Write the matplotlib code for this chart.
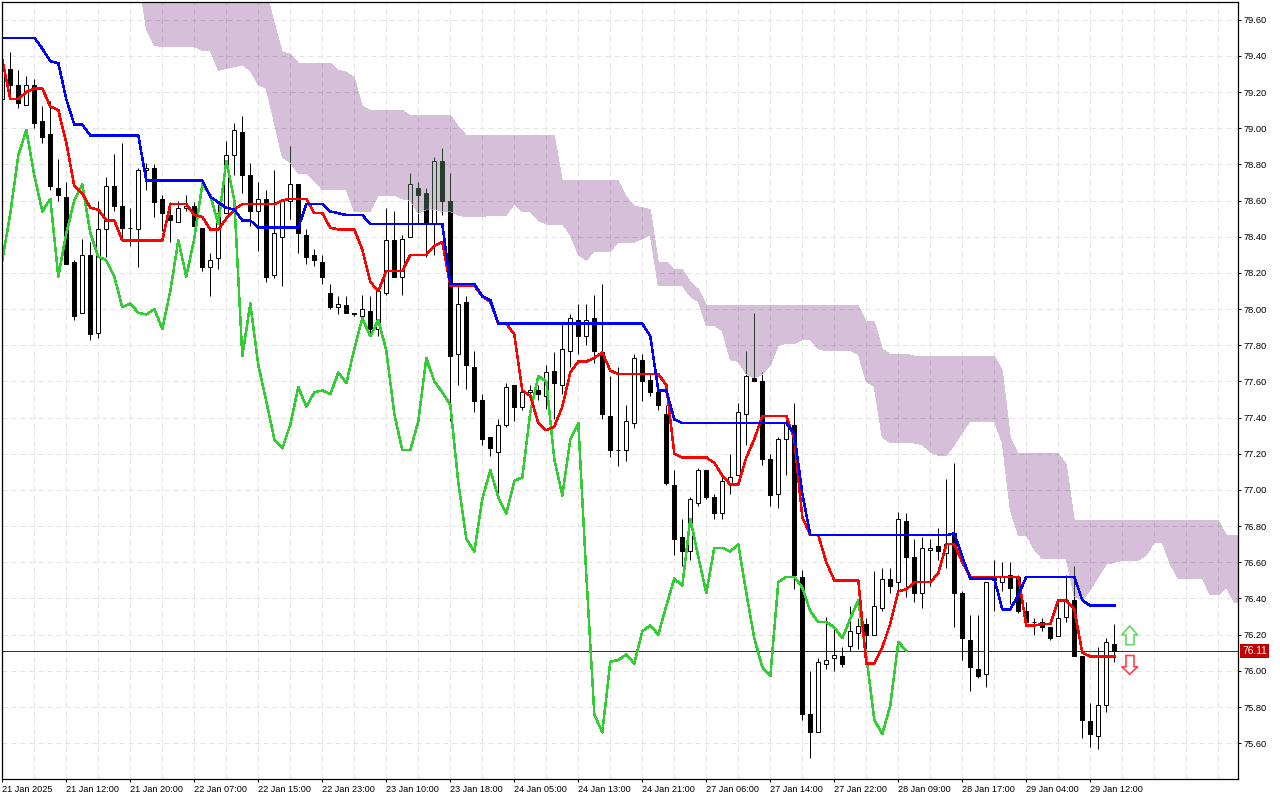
import numpy as np
import matplotlib
matplotlib.use("Agg")
import matplotlib.pyplot as plt
from matplotlib.patches import Polygon
from matplotlib.transforms import Affine2D

opens = [79.16,79.33,79.24,79.13,79.24,79.04,78.97,78.67,78.62,78.26,
77.98,78.30,77.87,78.44,78.68,78.57,78.45,78.44,78.77,78.78,
78.61,78.52,78.48,78.56,78.57,78.45,78.23,78.28,78.53,78.85,
78.98,78.74,78.54,78.61,78.19,78.40,78.60,78.69,78.41,78.30,
78.26,78.09,78.01,78.02,77.98,77.96,77.99,77.89,78.09,78.38,
78.18,78.40,78.67,78.64,78.47,78.82,78.60,77.75,78.04,77.68,
77.50,77.29,77.21,77.36,77.58,77.46,77.54,77.55,77.52,77.66,
77.58,77.77,77.94,77.85,77.95,77.76,77.41,77.22,77.22,77.37,
77.72,77.61,77.54,77.42,77.03,76.74,76.66,76.93,77.11,76.96,
76.87,77.04,77.08,77.42,77.62,77.60,77.17,76.98,77.28,77.36,
76.52,75.76,75.66,76.04,76.07,76.08,76.14,76.21,76.26,76.20,
76.35,76.51,76.49,76.83,76.63,76.43,76.67,76.69,76.65,76.76,
76.43,76.17,76.01,75.98,76.50,76.49,76.53,76.52,76.33,76.27,
76.27,76.24,76.19,76.30,76.39,76.08,75.72,75.64,75.81,76.15]

closes = [79.33,79.24,79.14,79.24,79.03,78.95,78.68,78.63,78.25,77.96,
78.30,77.86,78.44,78.68,78.57,78.45,78.45,78.77,78.78,78.59,
78.53,78.49,78.56,78.57,78.46,78.23,78.27,78.53,78.85,78.99,
78.74,78.54,78.61,78.18,78.42,78.60,78.69,78.42,78.29,78.27,
78.18,78.01,78.03,77.98,77.97,78.00,77.89,78.10,78.38,78.18,
78.39,78.69,78.63,78.47,78.82,78.60,77.74,78.03,77.69,77.49,
77.28,77.23,77.36,77.57,77.46,77.54,77.55,77.53,77.65,77.59,
77.78,77.95,77.85,77.94,77.77,77.42,77.22,77.22,77.38,77.73,
77.60,77.54,77.47,77.04,76.73,76.66,76.95,77.11,76.96,76.87,
77.05,77.07,77.43,77.63,77.60,77.17,76.97,77.28,77.37,76.53,
75.76,75.66,76.05,76.06,76.09,76.04,76.22,76.25,76.20,76.36,
76.51,76.47,76.84,76.63,76.43,76.68,76.68,76.66,76.70,76.43,
76.18,76.02,75.97,76.49,76.52,76.52,76.46,76.33,76.27,76.27,
76.24,76.18,76.29,76.39,76.08,75.73,75.65,75.81,76.16,76.11]

highs = [79.42,79.42,79.32,79.29,79.27,79.12,79.15,78.83,78.70,78.27,
78.39,78.37,78.60,78.73,78.86,78.92,78.56,78.78,78.81,78.80,
78.63,78.59,78.60,78.63,78.59,78.45,78.31,78.58,78.93,79.03,
79.07,78.81,78.70,78.66,78.77,78.61,78.90,78.69,78.44,78.33,
78.30,78.14,78.07,78.07,77.98,78.08,78.07,78.11,78.56,78.54,
78.41,78.75,78.70,78.67,78.84,78.89,78.75,78.13,78.07,77.77,
77.53,77.29,77.39,77.59,77.58,77.54,77.58,77.58,77.69,77.76,
77.92,77.97,78.03,78.03,78.08,78.14,77.63,77.68,77.47,77.75,
77.75,77.64,77.59,77.47,77.11,76.84,76.96,77.12,77.11,76.98,
77.08,77.20,77.48,77.77,77.98,77.65,77.20,77.29,77.40,77.48,
76.56,76.00,76.07,76.30,76.24,76.13,76.36,76.29,76.29,76.55,
76.57,76.57,76.88,76.87,76.73,76.74,76.73,76.79,77.06,77.15,
76.44,76.31,76.31,76.49,76.61,76.60,76.60,76.53,76.38,76.29,
76.29,76.24,76.39,76.53,76.58,76.08,75.82,76.13,76.18,76.26]

lows = [79.15,79.19,79.11,79.13,79.00,78.92,78.66,78.60,78.25,77.94,
77.98,77.83,77.84,78.29,78.54,78.40,78.35,78.23,78.66,78.51,
78.43,78.37,78.48,78.54,78.46,78.21,78.07,78.22,78.53,78.74,
78.64,78.46,78.32,78.15,78.17,78.13,78.50,78.31,78.25,78.24,
78.14,78.00,77.97,77.98,77.96,77.96,77.85,77.85,78.08,78.18,
78.08,78.40,78.47,78.29,78.30,78.52,77.38,77.58,77.56,77.43,
77.25,77.19,76.98,77.35,77.38,77.44,77.52,77.50,77.45,77.39,
77.53,77.68,77.75,77.80,77.70,77.39,77.18,77.13,77.16,77.34,
77.49,77.52,77.44,77.03,76.64,76.58,76.61,76.91,76.95,76.84,
76.84,76.98,77.08,77.25,77.60,77.14,76.91,76.90,77.08,76.45,
75.73,75.52,75.66,76.01,76.00,76.02,76.11,76.12,76.10,76.20,
76.33,76.43,76.44,76.41,76.38,76.35,76.47,76.61,76.57,76.24,
76.06,75.89,75.96,75.91,76.33,76.44,76.37,76.32,76.27,76.20,
76.22,76.17,76.19,76.27,76.08,75.63,75.58,75.57,75.77,76.05]

tenkan = [79.38,79.16,79.16,79.20,79.22,79.22,79.12,79.10,78.92,78.68,
78.64,78.56,78.55,78.49,78.49,78.38,78.38,78.38,78.38,78.38,
78.38,78.58,78.58,78.58,78.52,78.51,78.44,78.44,78.50,78.55,
78.58,78.58,78.58,78.58,78.58,78.60,78.61,78.61,78.61,78.53,
78.53,78.45,78.44,78.44,78.44,78.33,78.15,78.10,78.21,78.21,
78.21,78.30,78.30,78.30,78.35,78.37,78.13,78.13,78.13,78.13,
78.07,78.04,77.92,77.92,77.86,77.55,77.52,77.37,77.33,77.35,
77.46,77.65,77.71,77.71,77.73,77.76,77.66,77.64,77.64,77.64,
77.64,77.64,77.64,77.58,77.20,77.18,77.18,77.18,77.18,77.15,
77.08,77.03,77.03,77.18,77.28,77.41,77.41,77.41,77.41,77.28,
76.85,76.75,76.75,76.60,76.50,76.50,76.50,76.50,76.04,76.04,
76.13,76.26,76.44,76.45,76.49,76.49,76.49,76.54,76.70,76.70,
76.60,76.52,76.52,76.52,76.52,76.52,76.52,76.52,76.25,76.25,
76.26,76.26,76.39,76.39,76.34,76.10,76.08,76.08,76.08,76.08]

kijun = [79.50,79.50,79.50,79.50,79.50,79.44,79.37,79.36,79.16,79.02,
79.02,78.96,78.96,78.96,78.96,78.96,78.96,78.96,78.71,78.71,
78.71,78.71,78.71,78.71,78.71,78.71,78.62,78.59,78.56,78.55,
78.49,78.49,78.45,78.45,78.45,78.45,78.45,78.45,78.58,78.58,
78.58,78.54,78.53,78.52,78.52,78.52,78.47,78.47,78.47,78.47,
78.47,78.47,78.47,78.47,78.47,78.47,78.14,78.14,78.14,78.14,
78.07,78.05,77.92,77.92,77.92,77.92,77.92,77.92,77.92,77.92,
77.92,77.92,77.92,77.92,77.92,77.92,77.92,77.92,77.92,77.92,
77.92,77.85,77.55,77.55,77.39,77.37,77.37,77.37,77.37,77.37,
77.37,77.37,77.37,77.37,77.37,77.37,77.37,77.37,77.37,77.31,
76.98,76.75,76.75,76.75,76.75,76.75,76.75,76.75,76.75,76.75,
76.75,76.75,76.75,76.75,76.75,76.75,76.75,76.75,76.75,76.76,
76.63,76.51,76.51,76.51,76.51,76.34,76.34,76.42,76.52,76.52,
76.52,76.52,76.52,76.52,76.52,76.39,76.36,76.36,76.36,76.36]

chikou = [78.27,78.53,78.85,78.99,
78.74,78.54,78.61,78.18,78.42,78.60,78.69,78.42,78.29,78.27,
78.18,78.01,78.03,77.98,77.97,78.00,77.89,78.10,78.38,78.18,
78.39,78.69,78.63,78.47,78.82,78.60,77.74,78.03,77.69,77.49,
77.28,77.23,77.36,77.57,77.46,77.54,77.55,77.53,77.65,77.59,
77.78,77.95,77.85,77.94,77.77,77.42,77.22,77.22,77.38,77.73,
77.60,77.54,77.47,77.04,76.73,76.66,76.95,77.11,76.96,76.87,
77.05,77.07,77.43,77.63,77.60,77.17,76.97,77.28,77.37,76.53,
75.76,75.66,76.05,76.06,76.09,76.04,76.22,76.25,76.20,76.36,
76.51,76.47,76.84,76.63,76.43,76.68,76.68,76.66,76.70,76.43,
76.18,76.02,75.97,76.49,76.52,76.52,76.46,76.33,76.27,76.27,
76.24,76.18,76.29,76.39,76.08,75.73,75.65,75.81,76.16,76.11]

# cloud, first entry belongs to bar 17
cloud_first_bar = 17
cloud_upper = [79.9,79.9,79.9,79.9,79.9,79.9,79.9,79.9,79.9,79.9,
79.9,79.9,79.9,79.9,79.9,79.9,79.75,79.58,79.42,79.41,
79.36,79.36,79.36,79.36,79.36,79.32,79.31,79.28,79.12,79.10,
79.10,79.10,79.10,79.10,79.07,79.07,79.07,79.07,79.07,79.07,
79.01,78.96,78.96,78.96,78.96,78.96,78.96,78.96,78.96,78.96,
78.96,78.96,78.96,78.71,78.71,78.71,78.71,78.71,78.71,78.71,
78.71,78.62,78.57,78.56,78.55,78.26,78.26,78.22,78.22,78.15,
78.11,78.02,78.02,78.02,78.02,78.02,78.02,78.02,78.02,78.02,
78.02,78.02,78.02,78.02,78.02,78.02,78.02,78.02,78.02,78.02,
78.02,77.93,77.93,77.78,77.75,77.75,77.75,77.74,77.74,77.74,
77.74,77.74,77.74,77.74,77.74,77.74,77.74,77.74,77.66,77.29,
77.20,77.20,77.20,77.20,77.20,77.20,77.14,76.83,76.83,76.83,
76.83,76.83,76.83,76.83,76.83,76.83,76.83,76.83,76.83,76.83,
76.83,76.83,76.83,76.83,76.83,76.83,76.75,76.75,76.75]

cloud_lower = [79.85,79.55,79.46,79.45,79.45,79.45,79.45,79.45,79.43,79.43,
79.32,79.33,79.34,79.35,79.32,79.24,79.22,79.03,78.84,78.81,
78.75,78.75,78.71,78.66,78.66,78.66,78.66,78.54,78.54,78.54,
78.63,78.63,78.63,78.61,78.60,78.53,78.55,78.55,78.54,78.54,
78.52,78.51,78.51,78.51,78.52,78.52,78.52,78.58,78.54,78.54,
78.49,78.47,78.47,78.47,78.41,78.30,78.27,78.32,78.32,78.32,
78.37,78.37,78.37,78.39,78.41,78.13,78.13,78.13,78.13,78.07,
78.04,77.91,77.91,77.88,77.72,77.71,77.64,77.62,77.64,77.69,
77.80,77.81,77.81,77.83,77.83,77.78,77.77,77.77,77.77,77.77,
77.75,77.60,77.57,77.29,77.26,77.26,77.26,77.26,77.25,77.21,
77.19,77.19,77.25,77.32,77.38,77.38,77.38,77.38,77.26,76.89,
76.75,76.75,76.67,76.62,76.62,76.62,76.62,76.41,76.39,76.45,
76.52,76.59,76.60,76.61,76.61,76.61,76.64,76.71,76.71,76.59,
76.51,76.51,76.51,76.51,76.42,76.42,76.46,76.38,76.38]

last_price = 76.11
price_ticks = [79.6,79.4,79.2,79.0,78.8,78.6,78.4,78.2,78.0,77.8,77.6,77.4,77.2,77.0,76.8,76.6,76.4,76.2,76.0,75.8,75.6]
time_labels = ["21 Jan 2025","21 Jan 12:00","21 Jan 20:00","22 Jan 07:00","22 Jan 15:00","22 Jan 23:00",
               "23 Jan 10:00","23 Jan 18:00","24 Jan 05:00","24 Jan 13:00","24 Jan 21:00","27 Jan 06:00",
               "27 Jan 14:00","27 Jan 22:00","28 Jan 09:00","28 Jan 17:00","29 Jan 04:00","29 Jan 12:00"]

plt.rcParams['font.family'] = ['Liberation Sans', 'DejaVu Sans']
W, H = 1280, 800
fig = plt.figure(figsize=(W/100, H/100), dpi=100, facecolor='white')
L_, R_, T_, B_ = 2.3, 1238.0, 2.3, 779.0
ax = fig.add_axes([L_/W, 1-B_/H, (R_-L_)/W, (B_-T_)/H])
ax.set_xlim(0, (R_-L_)/8)
ax.set_ylim(75.402, 79.696)
for s in ax.spines.values():
    s.set_linewidth(0.9); s.set_color('black'); s.set_zorder(10)

px = 0.72
dash = (0, (5, 4))
GRID = '#e4e4e4'; GRID_C = '#bda6c0'
CLOUD = '#d6bfd8'; DARK = '#263e2a'

ax.yaxis.tick_right()
ax.set_yticks(price_ticks)
ax.set_yticklabels([f"{p:.2f}" for p in price_ticks], fontsize=6.7, color='black')
ax.tick_params(axis='y', length=2.5, width=0.72, pad=1.5)
bar_ticks = list(range(0, 8*len(time_labels), 8))
ax.set_xticks(bar_ticks)
ax.set_xticklabels(time_labels, fontsize=6.6, ha='left', color='black')
ax.tick_params(axis='x', length=2.5, width=0.72, pad=2)

xg = np.arange(0, 156, 4)
xl = ax.get_xlim(); yl = ax.get_ylim()
ax.hlines(price_ticks, xl[0], xl[1], colors=GRID, lw=px, linestyles=[dash], zorder=0.5)
ax.vlines(xg, yl[0], yl[1], colors=GRID, lw=px, linestyles=[dash], zorder=0.5)

O, C, Hi, Lo = map(np.array, (opens, closes, highs, lows))
x = np.arange(len(O))
top = np.maximum(O, C); bot = np.minimum(O, C)
up = C >= O

# price line
ax.axhline(last_price, color='#b00000', lw=px, zorder=1)

# candles
ax.vlines(x, top, Hi, colors='black', lw=px, zorder=2)
ax.vlines(x, Lo, bot, colors='black', lw=px, zorder=2)
ax.bar(x[up], (top-bot)[up], bottom=bot[up], width=0.5, facecolor='white', edgecolor='black', lw=px, zorder=2.2)
ax.bar(x[~up], (top-bot)[~up], bottom=bot[~up], width=0.5, facecolor='black', edgecolor='black', lw=px, zorder=2.2)

# cloud
xc = np.arange(cloud_first_bar, cloud_first_bar+len(cloud_upper))
cloud = ax.fill_between(xc, cloud_lower, cloud_upper, facecolor=CLOUD, edgecolor='none', lw=0, zorder=3, antialiased=False)
cpath = cloud.get_paths()[0]
clip = lambda a: a.set_clip_path(cpath, ax.transData)

# what lies under the cloud shows through it
clip(ax.hlines(price_ticks, xl[0], xl[1], colors=GRID_C, lw=px, linestyles=[dash], zorder=3.2))
clip(ax.vlines(xg, yl[0], yl[1], colors=GRID_C, lw=px, linestyles=[dash], zorder=3.2))
clip(ax.vlines(x, top, Hi, colors=DARK, lw=px, zorder=3.4))
clip(ax.vlines(x, Lo, bot, colors=DARK, lw=px, zorder=3.4))
for p in ax.bar(x[up], (top-bot)[up], bottom=bot[up], width=0.5, facecolor='none', edgecolor=DARK, lw=px, zorder=3.5).patches:
    clip(p)
for p in ax.bar(x[~up], (top-bot)[~up], bottom=bot[~up], width=0.5, facecolor=DARK, edgecolor=DARK, lw=px, zorder=3.5).patches:
    clip(p)
ax.set_xlim(xl); ax.set_ylim(yl)

# lines
ax.plot(np.arange(len(chikou)), chikou, color='#32cd32', lw=1.05, zorder=5, antialiased=False)
ax.plot(np.arange(len(tenkan)), tenkan, color='#ff0000', lw=1.05, zorder=5.2, antialiased=False)
ax.plot(np.arange(len(kijun)), kijun, color='#0000ff', lw=1.05, zorder=5.4, antialiased=False)

# current price tag
ax.text(1+4.5/(R_-L_), last_price, f"{last_price:.2f}", transform=ax.get_yaxis_transform(),
        fontsize=7.4, color='white', va='center', ha='left', clip_on=False, zorder=11,
        bbox=dict(boxstyle='square,pad=0.2', facecolor='#c00000', edgecolor='none'))

# arrows, placed in picture pixels
pix = Affine2D().scale(1/W, -1/H).translate(0, 1) + fig.transFigure
up_arrow = [(1129.7,626),(1137.7,635),(1134,635),(1134,644.7),(1126,644.7),(1126,635),(1121.7,635)]
dn_arrow = [(1126,655.5),(1134,655.5),(1134,666.7),(1137.7,666.7),(1129.7,674.3),(1121.7,666.7),(1126,666.7)]
fig.add_artist(Polygon(up_arrow, closed=True, facecolor='white', edgecolor='#5fdc5f', lw=1.2, transform=pix, zorder=12))
fig.add_artist(Polygon(dn_arrow, closed=True, facecolor='white', edgecolor='#ff3f50', lw=1.2, transform=pix, zorder=12))

fig.savefig('out.png', dpi=100, facecolor='white')
